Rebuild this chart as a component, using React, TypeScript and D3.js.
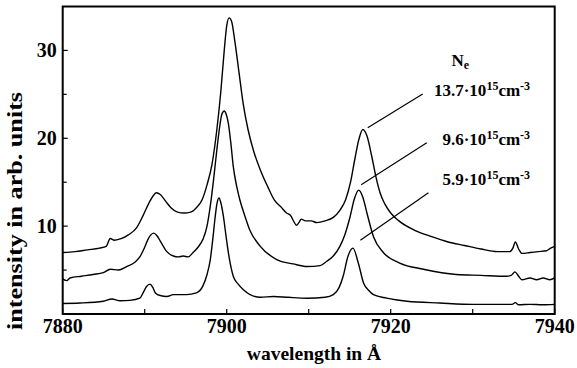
import React from "react";
import * as d3 from "d3";

const W = 577;
const H = 368;

// wavelength (Å), intensity (arb. units)
const lowWave = [7880, 7882.1, 7884.95, 7886.0, 7887.0, 7888.2, 7889.4, 7889.8, 7890.2, 7890.65, 7891.0, 7891.3, 7891.9, 7892.7, 7893.5, 7895.1, 7896.3, 7897.1, 7897.6, 7898.0, 7898.3, 7898.6, 7898.8, 7899.06, 7899.3, 7899.6, 7899.9, 7900.2, 7900.8, 7901.4, 7902.0, 7904.1, 7905.7, 7907.5, 7909.8, 7912.0, 7913.0, 7913.7, 7914.2, 7914.8, 7915.4, 7916.05, 7916.7, 7917.3, 7917.9, 7919.5, 7922.0, 7926.0, 7930.1, 7933.0, 7934.8, 7935.2, 7935.6, 7937.0, 7938.5, 7940];
const lowVal = [1.2, 1.25, 1.45, 1.7, 1.5, 1.55, 1.8, 2.4, 3.1, 3.4, 3.0, 2.4, 2.1, 2.0, 2.2, 2.2, 2.4, 3.2, 4.5, 6.2, 8.5, 11.1, 12.5, 13.2, 12.6, 11.1, 9.0, 7.0, 4.3, 3.4, 2.8, 1.9, 2.0, 1.9, 1.8, 1.9, 2.2, 3.0, 4.3, 6.6, 7.5, 5.8, 3.5, 2.7, 2.2, 1.8, 1.45, 1.25, 1.1, 1.1, 1.1, 1.3, 1.05, 1.1, 1.05, 1.1];

const midWave = [7880, 7880.5, 7880.9, 7882.3, 7883.7, 7884.95, 7885.8, 7886.8, 7887.8, 7888.8, 7889.4, 7890.0, 7890.4, 7891.1, 7891.5, 7891.9, 7892.7, 7893.5, 7894.1, 7894.7, 7895.3, 7895.9, 7896.5, 7897.1, 7897.6, 7898.0, 7898.4, 7898.8, 7899.1, 7899.4, 7899.7, 7899.95, 7900.2, 7900.5, 7900.8, 7901.2, 7901.6, 7902.2, 7902.8, 7904.1, 7906.1, 7908.1, 7909.8, 7911.4, 7912.2, 7913.0, 7913.8, 7914.4, 7915.0, 7915.6, 7916.1, 7916.6, 7917.1, 7917.9, 7919.1, 7921.1, 7924.0, 7928.0, 7931.0, 7934.1, 7934.7, 7935.15, 7935.6, 7936.0, 7937.0, 7937.8, 7938.6, 7939.4, 7940];
const midVal = [4.0, 3.8, 4.1, 4.3, 4.5, 4.7, 5.1, 5.0, 5.4, 5.9, 6.5, 7.6, 8.5, 9.2, 8.9, 8.3, 7.1, 6.6, 6.5, 6.6, 6.5, 7.0, 7.6, 8.5, 10.0, 12.3, 15.3, 18.7, 21.0, 22.7, 23.1, 22.7, 21.7, 19.5, 16.8, 14.6, 13.0, 11.2, 9.6, 7.7, 6.2, 5.7, 5.4, 5.5, 6.0, 6.6, 7.7, 9.0, 10.9, 13.2, 14.1, 13.3, 11.5, 8.8, 7.0, 5.8, 5.1, 4.5, 4.4, 4.3, 4.4, 4.8, 4.3, 3.9, 4.1, 3.9, 4.1, 3.9, 4.1];

const highWave = [7880, 7881.5, 7883.0, 7884.5, 7885.3, 7885.8, 7886.3, 7887.2, 7888.0, 7889.0, 7889.8, 7890.5, 7891.0, 7891.4, 7891.9, 7892.5, 7893.2, 7894.0, 7894.8, 7895.6, 7896.3, 7897.0, 7897.6, 7898.2, 7898.8, 7899.3, 7899.7, 7900.0, 7900.3, 7900.6, 7901.0, 7901.5, 7902.0, 7902.6, 7903.3, 7904.1, 7905.0, 7905.8, 7906.6, 7907.3, 7907.8, 7908.2, 7908.5, 7908.8, 7909.1, 7909.6, 7910.3, 7911.0, 7912.0, 7913.0, 7913.8, 7914.5, 7915.1, 7915.6, 7916.1, 7916.6, 7917.1, 7917.7, 7918.2, 7918.7, 7919.3, 7920.0, 7921.0, 7923.0, 7925.0, 7927.0, 7929.0, 7931.0, 7933.0, 7934.5, 7934.9, 7935.2, 7935.6, 7936.0, 7937.0, 7938.0, 7939.0, 7939.5, 7940];
const highVal = [7.0, 7.1, 7.3, 7.5, 7.7, 8.6, 8.4, 8.6, 9.0, 9.8, 11.2, 12.6, 13.4, 13.8, 13.6, 12.9, 12.1, 11.6, 11.5, 11.6, 12.1, 13.0, 14.7, 17.0, 21.0, 25.5, 30.0, 32.8, 33.7, 33.3, 31.0, 27.5, 24.0, 21.0, 18.5, 16.4, 14.5, 13.0, 12.2, 11.5, 11.2, 10.5, 10.1, 10.4, 10.8, 10.6, 10.6, 10.4, 10.6, 11.0, 11.8, 13.0, 15.0, 17.5, 19.8, 21.0, 20.3, 17.9, 15.6, 13.8, 12.5, 11.5, 10.6, 9.5, 8.8, 8.2, 7.8, 7.4, 7.1, 7.1, 7.5, 8.2, 7.4, 6.9, 7.0, 7.1, 7.2, 7.5, 7.7];

const series = [
  { wave: lowWave, val: lowVal },
  { wave: midWave, val: midVal },
  { wave: highWave, val: highVal },
];

const densities = ["13.7", "9.6", "5.9"];
// leader lines: [from wavelength, from intensity, to wavelength, to intensity]
const leaderFromWave = [7917.2, 7916.4, 7916.3];
const leaderFromVal = [21.2, 14.7, 8.4];
const leaderToWave = [7923.9, 7924.4, 7924.6];
const leaderToVal = [25.05, 19.5, 13.8];
const labelWave = 7937.0;
const labelVal = [24.8, 19.25, 14.7];
const neWave = 7927.4;
const neVal = 28.2;

const xMajor = [7880, 7900, 7920, 7940];
const xMinor = [7890, 7910, 7930];
const yMajor = [10, 20, 30];
const yMinor = [5, 15, 25];

const FONT = "'Liberation Serif', 'Times New Roman', serif";

export default function App() {
  const x = d3.scaleLinear().domain([7880, 7940]).range([62.7, 554.7]);
  const y = d3.scaleLinear().domain([0, 35]).range([314, 6.5]);
  const line = d3
    .line<[number, number]>()
    .x((d) => x(d[0]))
    .y((d) => y(d[1]))
    .curve(d3.curveMonotoneX);

  const left = x(7880);
  const right = x(7940);
  const top = y(35);
  const bottom = y(0);

  return (
    <svg
      width={W}
      height={H}
      style={{ position: "absolute", left: 0, top: 0, background: "#fff" }}
      fontFamily={FONT}
      fontWeight="bold"
    >
      <rect x={0} y={0} width={W} height={H} fill="#fff" />
      {series.map((s, i) => (
        <path
          key={i}
          d={line(s.wave.map((w, j) => [w, s.val[j]] as [number, number])) || ""}
          fill="none"
          stroke="#000"
          strokeWidth={1.4}
          strokeLinejoin="round"
        />
      ))}
      <rect
        x={left}
        y={top}
        width={right - left}
        height={bottom - top}
        fill="none"
        stroke="#000"
        strokeWidth={2}
      />
      {xMajor.map((t) => (
        <g key={"xm" + t}>
          <line x1={x(t)} x2={x(t)} y1={bottom} y2={bottom - 5} stroke="#000" strokeWidth={1.2} />
          <text x={x(t)} y={333} textAnchor="middle" fontSize={20}>
            {t}
          </text>
        </g>
      ))}
      {xMinor.map((t) => (
        <line key={"xn" + t} x1={x(t)} x2={x(t)} y1={bottom} y2={bottom - 5} stroke="#000" strokeWidth={1.2} />
      ))}
      {yMajor.map((t) => (
        <g key={"ym" + t}>
          <line x1={left} x2={left + 5} y1={y(t)} y2={y(t)} stroke="#000" strokeWidth={1.2} />
          <text x={56.7} y={y(t) + 7} textAnchor="end" fontSize={20}>
            {t}
          </text>
        </g>
      ))}
      {yMinor.map((t) => (
        <line key={"yn" + t} x1={left} x2={left + 4} y1={y(t)} y2={y(t)} stroke="#000" strokeWidth={1.2} />
      ))}
      <text x={314} y={360} textAnchor="middle" fontSize={19.5}>
        wavelength in Å
      </text>
      <text
        transform="translate(22,211) rotate(-90)"
        textAnchor="middle"
        fontSize={21}
        textLength={238}
        lengthAdjust="spacingAndGlyphs"
      >
        intensity in arb. units
      </text>
      {densities.map((d, i) => (
        <g key={"a" + i}>
          <line
            x1={x(leaderFromWave[i])}
            y1={y(leaderFromVal[i])}
            x2={x(leaderToWave[i])}
            y2={y(leaderToVal[i])}
            stroke="#000"
            strokeWidth={1.2}
          />
          <text x={x(labelWave)} y={y(labelVal[i])} textAnchor="end" fontSize={17}>
            {d}·10
            <tspan fontSize={12} dy={-6}>15</tspan>
            <tspan dy={6}>cm</tspan>
            <tspan fontSize={12} dy={-6}>-3</tspan>
          </text>
        </g>
      ))}
      <text x={x(neWave)} y={y(neVal)} fontSize={17}>
        N<tspan fontSize={12} dy={3}>e</tspan>
      </text>
    </svg>
  );
}
